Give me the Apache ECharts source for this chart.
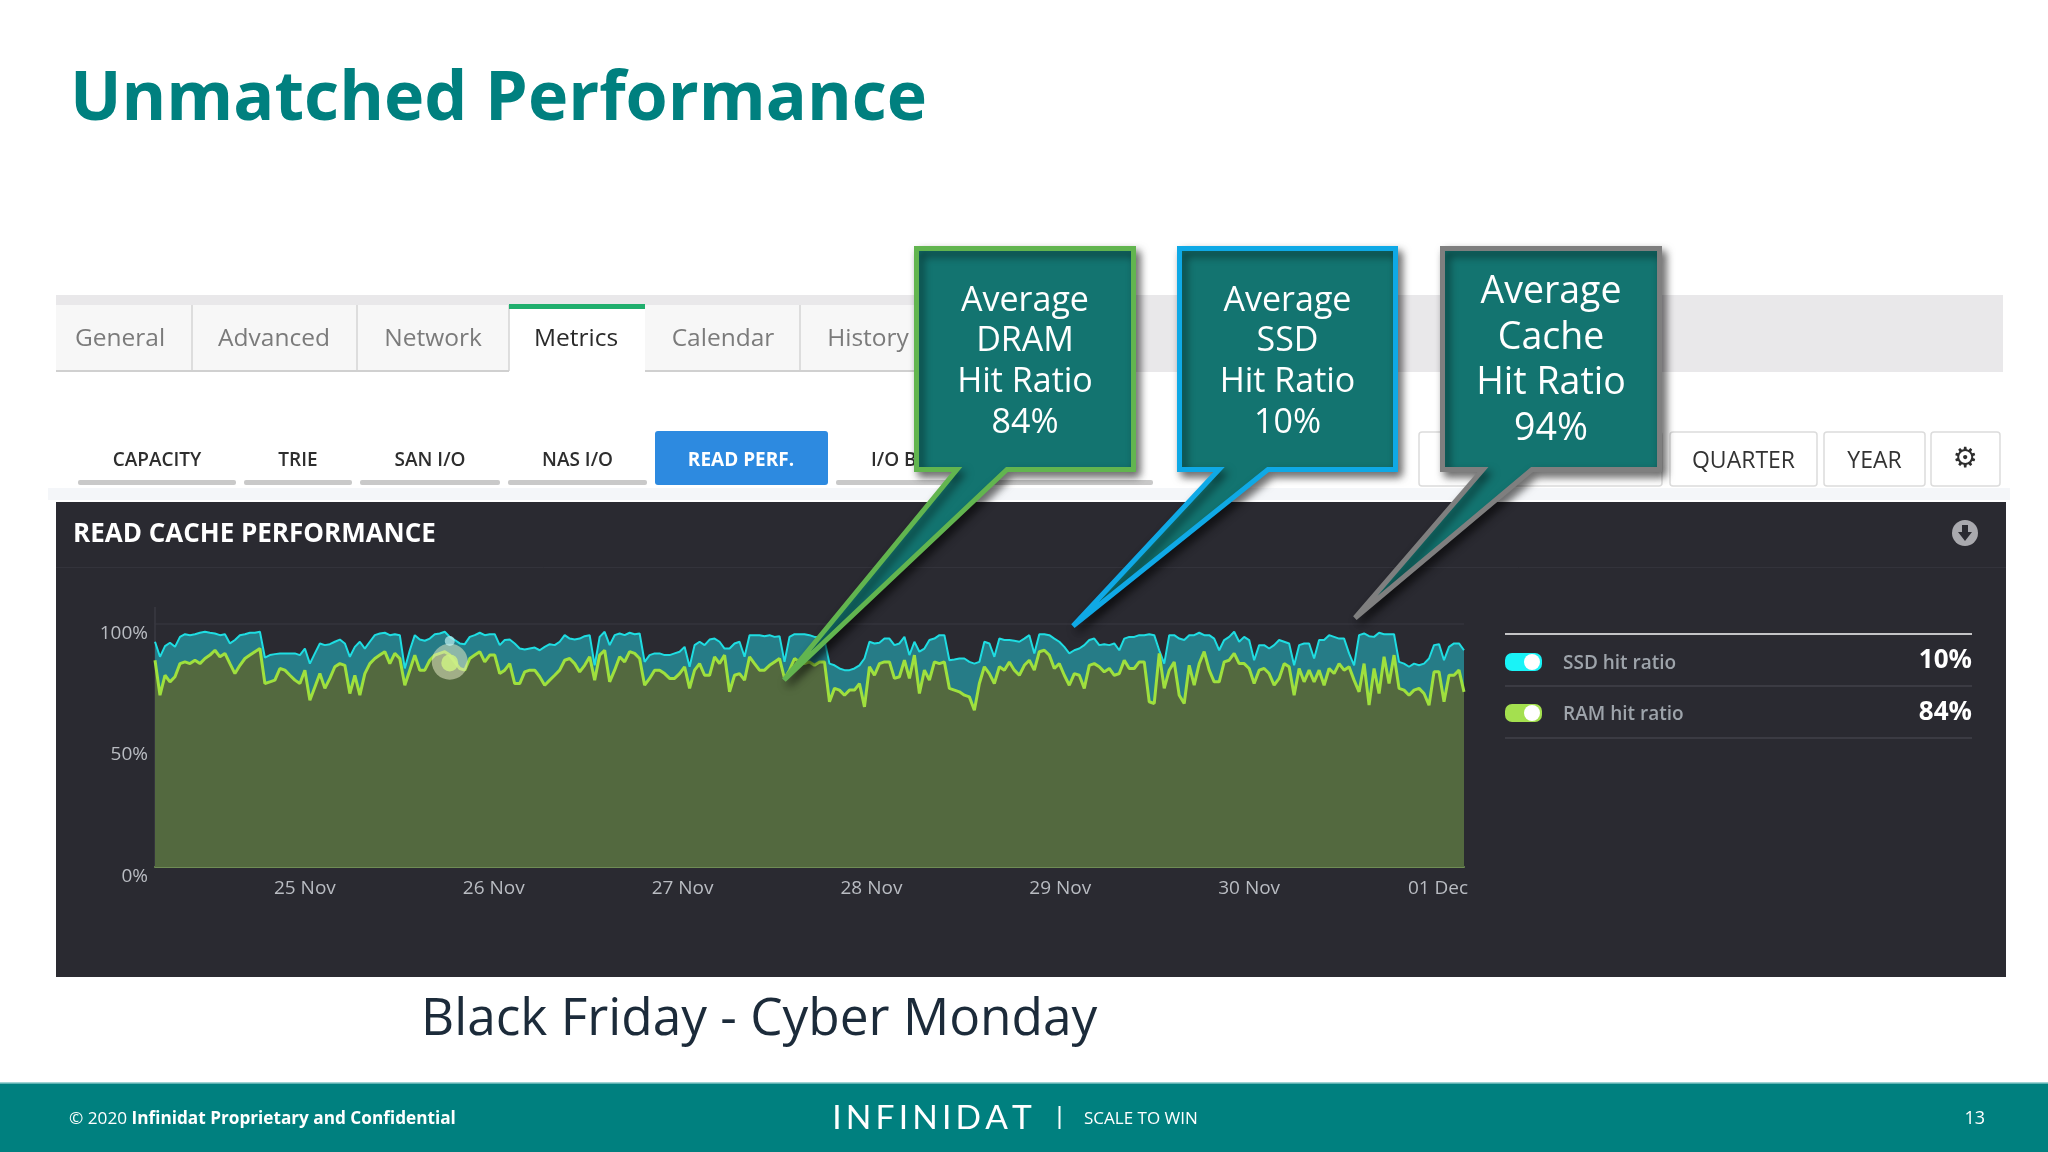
<!DOCTYPE html>
<html>
<head>
<meta charset="utf-8">
<style>html,body{margin:0;padding:0;background:#fff}#c{width:2048px;height:1152px}</style>
<script src="https://cdn.jsdelivr.net/npm/echarts@6/dist/echarts.min.js"></script>
</head>
<body>
<div id="c"></div>
<script>
// ---- values (percent) ----
// top edge of the SSD band: cumulative cache hit ratio (RAM + SSD)
const cacheHitRatio = [
92.7,86.5,90.9,92.3,90.6,94.7,95.8,95.4,95.8,96.4,
96.8,96.4,96.1,95.4,95.8,92,93.4,95.4,95.8,96.4,
96.4,96.8,86.2,87.2,87.6,87.9,87.9,87.9,87.9,87.2,
89.9,83.7,87.9,92,91.3,91.7,92.7,93.6,92,86.5,
90.6,92.7,89.9,92.7,95.4,96.1,96.4,95.4,95.8,95.4,
81.7,89.2,95.4,93.6,93.1,94,95.8,96.1,96.8,94.7,
93.4,92,91.7,94.7,95.4,96.4,95.4,95.8,
95.8,91.3,93.4,93.6,92,89.9,89.5,89.9,90.3,89.2,
90.6,91.7,91.3,92.7,95.4,94,93.6,94,95,95.4,
83,94.7,96.8,91.3,95.4,96.1,95.4,96.4,95.8,96.1,
84.4,87.2,87.9,87.9,87.2,87.2,87.9,88.6,90.6,82.4,
91.3,92.7,91.3,93.6,94,92.7,89.9,89.9,92,92.7,
86.5,95.4,95.4,95.4,95,95.4,94.7,95,84.4,94.7,
95.8,95.8,95.8,95.4,94.7,94.7,
93.4,83.7,83,81.7,81,81,81.7,83,85.8,92.7,
92,92.3,94,94,91.3,92,94.7,87.2,92.7,88.6,
89.9,93.4,94,95.4,95.4,85.1,85.4,85.8,85.8,84.4,
83.7,84.4,92.7,92,86.5,94,93.4,93.4,93.1,92.7,
94,95.4,87.9,95.8,95.8,95.4,94,92.7,90.6,87.9,
89.2,89.9,91.3,93.4,94,91.3,91.7,91.3,92,89.2,
94,94.7,94.7,95.4,95.4,95.8,
95.4,89.2,83.7,95.4,95.4,94,93.4,95.4,95.4,96.4,
95.4,95.4,94,89.2,93.4,94.7,96.8,92.7,94.7,93.4,
85.1,91.3,91.3,89.9,91.3,93.4,92.7,92,83,91.3,
92,92,85.8,93.4,93.4,95.4,94.7,94,94,87.9,
83,95.4,96.1,95,94.7,96.4,95.8,95.8,95.8,84.4,
83.7,82.4,83.7,83,83.7,85.8,91.3,91.7,85.1,90.6,
92,92,89.2
];
const ramHitRatio = [
85.1,70.7,78.9,76.2,78.3,83.7,84.4,83.7,85.1,83.7,
85.8,87.2,89.2,86.5,87.9,83.7,79.6,83,85.8,87.2,
88.6,89.9,75.5,76.2,76.9,81.7,81,78.9,76.9,75.5,
81,68.6,74.1,79.6,73.5,77.6,82.4,83.7,83,71.4,
78.9,70.7,79.6,83.7,85.8,87.2,88.6,83.7,87.9,85.8,
74.8,81,87.2,81,81,85.1,87.2,87.9,88.6,87.2,
84.4,81.7,81,85.8,87.2,88.6,84.4,87.2,
87.2,79.6,81,83.7,75.5,75.5,80.3,81,81,78.3,
74.8,76.9,78.9,81,85.1,85.8,83.7,80.3,83,86.5,
76.9,87.2,89.2,76.2,81,86.5,84.4,88.6,87.9,85.8,
74.8,77.6,81,81,79.6,77.6,77.6,79.6,82.4,73.5,
81,83.7,78.9,78.9,86.5,83.7,87.2,72.1,78.9,79.6,
76.9,86.5,83.7,81,81,83,84.4,85.8,77.6,81,
85.8,84.4,83.7,84.4,83,84.4,
84.4,68,73.5,72.8,70.7,72.8,72.8,75.5,65.9,82.4,
78.9,83.7,84.4,84.4,77.6,78.3,85.1,77.6,87.2,71.4,
81,76.9,84.4,83.7,84.4,73.5,72.8,72.1,70.7,70,
64.5,75.5,82.4,79.6,75.5,82.4,81,84.4,81,78.9,
83,85.1,81,88.6,89.2,87.2,81.7,83.7,78.9,74.8,
79.6,78.9,73.5,83,83.7,82.4,80.3,81.7,78.9,79.6,
85.1,81.7,81.7,84.4,84.4,68,
67.3,87.9,73.5,81,84.4,70.7,67.3,83,74.8,83.7,
88.6,81,76.2,76.2,84.4,85.1,87.9,83.7,83.7,81.7,
75.5,81,81.7,79.6,74.8,77.6,83.7,82.4,70.7,81.7,
76.2,81,76.2,81,74.8,81.7,79.6,83.7,81,82.4,
76.9,72.1,83.7,66.6,81.7,71.4,86.5,75.5,87.2,73.5,
72.8,70.7,72.8,73.5,71.4,66.6,80.3,80.3,68,78.9,
78.9,81,72.1
];
const tickDays = [[10,25],[10,26],[10,27],[10,28],[10,29],[10,30],[11,1]];
const tickLabels = ['25 Nov','26 Nov','27 Nov','28 Nov','29 Nov','30 Nov','01 Dec'];
const tabLabels = ['General','Advanced','Network','Metrics','Calendar','History'];
const legendRows = [['SSD hit ratio','10%'],['RAM hit ratio','84%']];
const YEAR = 2019;
const stepMs = 38.0952 * 60000;
const tickTimes = tickDays.map(d => new Date(YEAR, d[0], d[1]).getTime());
const firstTime = tickTimes[0] - 30 * stepMs;
const times = ramHitRatio.map((_, i) => firstTime + i * stepMs);
const pairs = a => a.map((v, i) => [times[i], v]);

// ---- slide furniture helpers ----
const OS = '"Open Sans"';
function rect(x, y, w, h, fill, z, extra) {
  return { type: 'rect', z: z, shape: Object.assign({ x, y, width: w, height: h }, extra && extra.r ? { r: extra.r } : {}),
    style: Object.assign({ fill }, extra && extra.stroke ? { stroke: extra.stroke, lineWidth: extra.lw || 1 } : {}), silent: true };
}
function txt(s, x, y, font, fill, z, align) {
  return { type: 'text', z: z, x, y, silent: true,
    style: { text: s, font, fill, align: align || 'center', verticalAlign: 'middle', textAlign: align || 'center', textVerticalAlign: 'middle' } };
}
function line(x1, y1, x2, y2, c, lw, z) {
  return { type: 'line', z, silent: true, shape: { x1, y1, x2, y2 }, style: { stroke: c, lineWidth: lw } };
}
function callout(l, r, bl, br, tx, ty, color, lines, font, ys) {
  const t = 248.5, b = 469.5, cx = (l + r) / 2;
  const out = [{
    type: 'polygon', z: 60, silent: true,
    shape: { points: [[l, t], [r, t], [r, b], [br, b], [tx, ty], [bl, b], [l, b]] },
    style: { fill: '#137470', stroke: color, lineWidth: 5, lineJoin: 'miter', miterLimit: 6,
      shadowBlur: 8, shadowOffsetX: 4, shadowOffsetY: 5, shadowColor: 'rgba(0,0,0,0.55)' }
  }];
  lines.forEach((s, i) => out.push(txt(s, cx, ys[i], font, '#ffffff', 61)));
  return out;
}

const g = [];
// tabs
g.push(rect(56, 295, 1947, 77, '#e9e8ea', -10));
const tabX = [56, 192, 357, 509, 645, 800, 920];
const tabCx = [120, 274, 433, 576, 723, 868];
tabLabels.forEach((s, i) => {
  const active = s === 'Metrics';
  g.push(rect(tabX[i], 305, tabX[i + 1] - tabX[i], active ? 70 : 66, active ? '#ffffff' : '#f7f7f7', -9));
  if (!active) g.push(line(tabX[i + 1], 305, tabX[i + 1], 371, '#d4d4d4', 1.5, -8));
  if (!active) g.push(line(tabX[i], 371, tabX[i + 1], 371, '#d0d0d0', 2, -8));
  g.push(txt(s, tabCx[i], 339.5, '24.5px ' + OS, active ? '#2a2a2a' : '#7b7b7b', -7));
});
g.push(rect(509, 304, 136, 5, '#1fae6d', -6));
// sub-navigation
const navX = [[78, 236, 'CAPACITY'], [244, 352, 'TRIE'], [360, 500, 'SAN I/O'], [508, 647, 'NAS I/O']];
navX.forEach(n => {
  g.push(rect(n[0], 480, n[1] - n[0], 5, '#c9c9c9', -8, { r: 2 }));
  g.push(txt(n[2], (n[0] + n[1]) / 2, 461, '600 19px ' + OS, '#2e2e2e', -7));
});
g.push(rect(655, 431, 173, 54, '#2d8ae0', -8, { r: 3 }));
g.push(txt('READ PERF.', 741, 461, '700 19px ' + OS, '#ffffff', -7));
g.push(rect(836, 480, 317, 5, '#c9c9c9', -8, { r: 2 }));
g.push(txt('I/O B', 871, 461, '600 19px ' + OS, '#2e2e2e', -7, 'left'));
[[1419, 1662, ''], [1670, 1817, 'QUARTER'], [1824, 1925, 'YEAR'], [1931, 2000, '']].forEach(b => {
  g.push(rect(b[0], 432, b[1] - b[0], 54, '#ffffff', -8, { r: 3, stroke: '#dcdcdc', lw: 1.5 }));
  if (b[2]) g.push(txt(b[2], (b[0] + b[1]) / 2, 461.5, '23px ' + OS, '#333333', -7));
});
g.push(txt('\u2699', 1965, 460, 'bold 28px "DejaVu Sans"', '#2e2e2e', -7));
g.push(rect(48, 488, 1962, 12, '#f4f6f9', -9));
// dark panel
g.push(rect(56, 502, 1950, 475, '#2a2a31', -5));
g.push(line(56, 567.5, 2006, 567.5, '#33333b', 1, -4));
g.push(txt('READ CACHE PERFORMANCE', 73, 535, '700 26px ' + OS, '#ffffff', -3, 'left'));
g.push({ type: 'circle', z: -3, silent: true, shape: { cx: 1965, cy: 533, r: 13 }, style: { fill: '#a9a9ae' } });
g.push({ type: 'polygon', z: -2, silent: true, shape: { points: [[1962, 525], [1968, 525], [1968, 532], [1972, 532], [1965, 541], [1958, 532], [1962, 532]] }, style: { fill: '#2a2a31' } });
g.push(line(155, 607, 155, 624, '#3a3a42', 1.5, -3));
// legend
g.push(line(1505, 634, 1972, 634, '#c4c4c6', 2, -3));
[[662, '#19f3f7', 686], [713, '#a4e04f', 738]].forEach((r, i) => {
  g.push(rect(1505, r[0] - 9, 37, 18, r[1], -3, { r: 7 }));
  g.push({ type: 'circle', z: -2, silent: true, shape: { cx: 1532, cy: r[0], r: 8 }, style: { fill: '#ffffff' } });
  g.push(txt(legendRows[i][0], 1563, r[0] + 2, '600 19px ' + OS, '#9ea4ab', -3, 'left'));
  g.push(txt(legendRows[i][1], 1972, r[0] - (i ? 0 : 1), '700 26px ' + OS, '#ffffff', -3, 'right'));
  g.push(line(1505, r[2], 1972, r[2], '#42424a', 1.5, -3));
});
// callouts
g.push(...callout(916.5, 1133.5, 957, 1007, 784, 680, '#62b54f', ['Average', 'DRAM', 'Hit Ratio', '84%'], '34px ' + OS, [301, 341, 382, 423]));
g.push(...callout(1179.5, 1395.5, 1219, 1268, 1073, 626, '#0fa9e6', ['Average', 'SSD', 'Hit Ratio', '10%'], '34px ' + OS, [301, 341, 382, 423]));
g.push(...callout(1442.5, 1659.5, 1483, 1532, 1355, 618, '#7f7f7f', ['Average', 'Cache', 'Hit Ratio', '94%'], '37.5px ' + OS, [292, 338, 383, 429]));
// caption and footer
g.push(txt('Black Friday - Cyber Monday', 421, 1020, '51.4px ' + OS, '#1c2b3a', 5, 'left'));
g.push(rect(0, 1083, 2048, 69, '#00807f', 5));
g.push(line(0, 1083, 2048, 1083, '#7fc4c4', 1.5, 6));
g.push({ type: 'text', z: 6, x: 69, y: 1119, silent: true, style: { text: '{a|\u00A9 2020 }{b|Infinidat Proprietary and Confidential}',
  align: 'left', verticalAlign: 'middle', textAlign: 'left', textVerticalAlign: 'middle',
  rich: { a: { font: '17.2px ' + OS, fill: '#ffffff' }, b: { font: '700 17.2px ' + OS, fill: '#ffffff' } } } });
g.push(txt('I\u2009N\u2009F\u2009I\u2009N\u2009I\u2009D\u2009A\u2009T', 932, 1118, '33.5px Lato', '#ffffff', 6));
g.push(line(1059.5, 1106, 1059.5, 1129, '#ffffff', 2, 6));
g.push(txt('SCALE TO WIN', 1084, 1119, '17px ' + OS, '#ffffff', 6, 'left'));
g.push(txt('13', 1985, 1119, '18px ' + OS, '#ffffff', 6, 'right'));

const chart = echarts.init(document.getElementById('c'), null, { renderer: 'canvas', width: 2048, height: 1152 });
chart.setOption({
  animation: false,
  backgroundColor: '#ffffff',
  title: { text: 'Unmatched Performance', left: 70, top: 56, padding: 0, z: 5,
    textStyle: { fontFamily: OS, fontWeight: 700, fontSize: 68.2, color: '#00807f', lineHeight: 90 } },
  legend: { show: false },
  grid: { left: 155, top: 624, width: 1309, height: 243, containLabel: false },
  xAxis: {
    type: 'value', min: times[0], max: times[times.length - 1],
    axisLine: { show: true, lineStyle: { color: '#6f8c55', width: 2 } },
    axisTick: { show: false }, splitLine: { show: false },
    axisLabel: {
      customValues: tickTimes, margin: 12, color: '#b9bcc2', fontFamily: OS, fontSize: 19,
      formatter: v => tickLabels[tickTimes.indexOf(+v)] || ''
    }
  },
  yAxis: {
    type: 'value', min: 0, max: 100, interval: 50,
    axisLine: { show: true, lineStyle: { color: '#3a3a42', width: 1.5 } },
    axisTick: { show: false },
    splitLine: { show: true, lineStyle: { color: '#35353d', width: 1.5 } },
    axisLabel: { margin: 7, color: '#b9bcc2', fontFamily: OS, fontSize: 19, verticalAlign: 'top', formatter: '{value}%' }
  },
  series: [
    { name: 'SSD hit ratio', type: 'line', z: 2, showSymbol: false, symbol: 'none',
      data: pairs(cacheHitRatio),
      lineStyle: { color: '#1fdde2', width: 2 }, areaStyle: { color: '#267c87', opacity: 1 } },
    { name: 'RAM hit ratio', type: 'line', z: 3, showSymbol: false, symbol: 'none',
      data: pairs(ramHitRatio),
      lineStyle: { color: '#9fe03e', width: 3 }, areaStyle: { color: '#53693f', opacity: 1 },
      markPoint: { silent: true, symbol: 'circle', animation: false, label: { show: false },
        data: [
          { coord: [times[59], 84.5], symbolSize: 36, itemStyle: { color: 'rgba(225,232,195,0.55)' } },
          { coord: [times[59], 84], symbolSize: 17, itemStyle: { color: 'rgba(205,240,130,0.85)' } },
          { coord: [times[59], 93], symbolSize: 10, itemStyle: { color: 'rgba(190,240,240,0.7)' } }
        ] } }
  ],
  graphic: { elements: g }
});
</script>
</body>
</html>
